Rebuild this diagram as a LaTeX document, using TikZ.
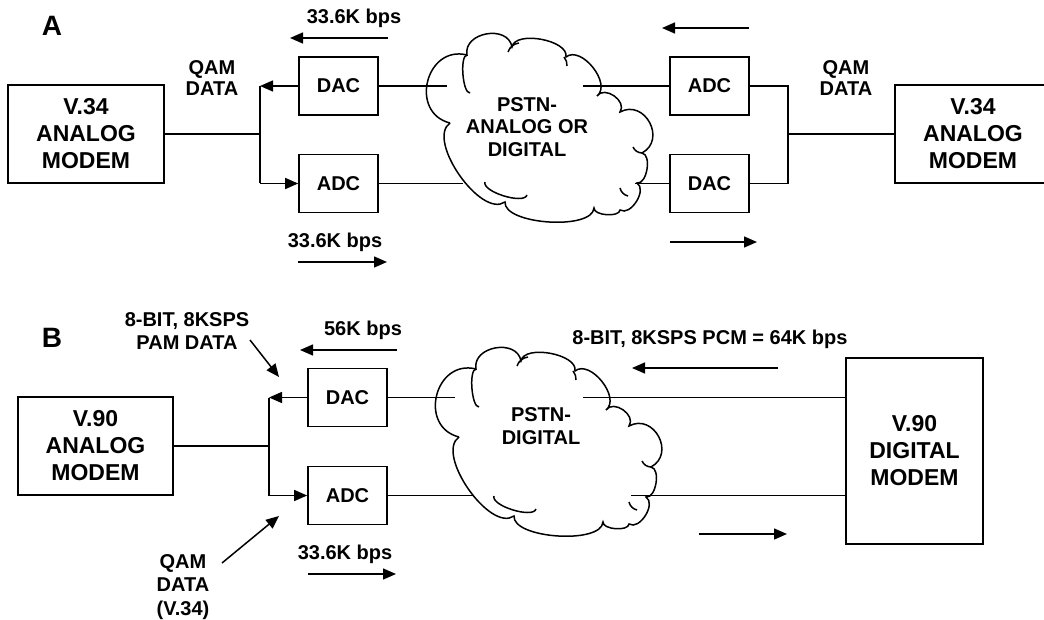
\documentclass[tikz,border=0pt]{standalone}
\usepackage{fontspec}
\setmainfont{Liberation Sans}
\usetikzlibrary{arrows.meta,calc}
\tikzset{
  bump/.style={bend left=90,looseness=#1},
  fold/.style={bend right=90,looseness=#1},
  cloudpic/.pic={
    \draw[line width=1.5pt]
      (450,123) to[bump=1.55] (467,55) to[bump=1.3] (512,47) to[bump=0.8] (566,57)
      to[bump=1.0] (597,96) to[bump=1.2] (620,112) to[bump=1.55] (642,153)
      to[bump=0.85] (637,183) to[bump=1.0] (620,210) to[bump=0.75] (594,208)
      to[bump=0.65] (505,202) to[bump=0.78] (450,123);
    \draw[line width=1.5pt] (467,55) to[fold=0.5] (470,93);
    \draw[line width=1.5pt] (508,52) to[bend left=30] (519,43);
    \draw[line width=1.5pt] (564,57) to[bend left=20] (567,66);
    \draw[line width=1.5pt] (642,153) to[bend left=30] (633,147);
    \draw[line width=1.5pt] (485,182) to[fold=0.6] (527,195);
    \draw[line width=1.5pt] (620,188) to[bend right=30] (628,196);
  }
}
\begin{document}
\begin{tikzpicture}[x=1pt,y=-1pt,
  box/.style={draw,line width=1.7pt,inner sep=0pt,minimum width=79pt,minimum height=58pt,font=\fontsize{20}{22}\selectfont\bfseries},
  modem/.style={draw,line width=1.7pt,align=center,inner sep=0pt,font=\fontsize{23}{27}\selectfont\bfseries},
  lbl/.style={align=center,inner sep=0pt,font=\fontsize{20}{21.5}\selectfont\bfseries},
  ttl/.style={inner sep=0pt,font=\fontsize{28}{30}\selectfont\bfseries},
  wire/.style={line width=1.5pt},
  arr/.style={line width=1.5pt,-{Triangle[length=13pt,width=11pt]}},
]
\useasboundingbox (0,0) rectangle (1044,620);
\clip (0,0) rectangle (1044,620);

% ---------------- A ----------------
\node[ttl,anchor=base] (tA) at (52,36) {A};
\node[modem,minimum width=156pt,minimum height=98pt] (lmA) at (86,134) {V.34\\ANALOG\\MODEM};
\node[box] (dacA1) at (338.5,86) {DAC};
\node[box] (adcA1) at (338.5,183.5) {ADC};
\node[box] (adcA2) at (709.5,86) {ADC};
\node[box] (dacA2) at (709.5,183.5) {DAC};
\node[modem,minimum width=156pt,minimum height=98pt] (rmA) at (973,134) {V.34\\ANALOG\\MODEM};
\coordinate (jA1) at (260,134);
\coordinate (jA2) at (788,134);
\node[lbl] (qamA1) at (212,78) {QAM\\DATA};
\node[lbl] (qamA2) at (846,78) {QAM\\DATA};
\pic at (0,0) {cloudpic};
\node[lbl,font=\fontsize{20}{22.5}\selectfont\bfseries] (pstnA) at (527,127) {PSTN-\\ANALOG OR\\DIGITAL};

\node[lbl,anchor=base] (rA1) at (354,24) {33.6K bps};
\coordinate (aA1s) at (388,38); \coordinate (aA1e) at (290,38);
\draw[arr] (aA1s) -- (aA1e);
\node[lbl,anchor=base] (rA2) at (335,248) {33.6K bps};
\coordinate (aA2s) at (298,262); \coordinate (aA2e) at (387,262);
\draw[arr] (aA2s) -- (aA2e);
\coordinate (aA3s) at (749,28); \coordinate (aA3e) at (662,28);
\draw[arr] (aA3s) -- (aA3e);
\coordinate (aA4s) at (670,242); \coordinate (aA4e) at (757,242);
\draw[arr] (aA4s) -- (aA4e);

\draw[arr] (dacA1.west) -- (dacA1.west -| jA1);
\draw[wire] (dacA1.west -| jA1) -- (adcA1.west -| jA1);
\draw[arr] (adcA1.west -| jA1) -- (adcA1.west);
\draw[wire] (lmA.east) -- (jA1);

\coordinate (cA1) at (447,86); \coordinate (cA2) at (583,86);
\coordinate (cA3) at (463,183.5); \coordinate (cA4) at (635,183.5);
\draw[wire] (dacA1.east) -- (cA1);
\draw[wire] (cA2) -- (adcA2.west);
\draw[wire] (adcA1.east) -- (cA3);
\draw[wire] (cA4) -- (dacA2.west);
\draw[wire] (adcA2.east) -- (adcA2.east -| jA2) -- (dacA2.east -| jA2) -- (dacA2.east);
\draw[wire] (jA2) -- (rmA.west);

% ---------------- B ----------------
\node[ttl,anchor=base] (tB) at (52,348) {B};
\node[modem,minimum width=155pt,minimum height=98pt] (lmB) at (95.5,446) {V.90\\ANALOG\\MODEM};
\node[box] (dacB) at (347.5,397.5) {DAC};
\node[box] (adcB) at (347.5,495.5) {ADC};
\coordinate (jB) at (269,446);
\node[modem,minimum width=137pt,minimum height=186pt] (rmB) at (914.5,451) {V.90\\DIGITAL\\MODEM};
\pic at (9,314) {cloudpic};
\node[lbl,font=\fontsize{20}{22.5}\selectfont\bfseries] (pstnB) at (541,426) {PSTN-\\DIGITAL};

\node[lbl,font=\fontsize{20}{23.5}\selectfont\bfseries] (pamB) at (187,331) {8-BIT, 8KSPS\\PAM DATA};
\coordinate (aB1s) at (250,340); \coordinate (aB1e) at (279,377);
\draw[arr] (aB1s) -- (aB1e);
\node[lbl,anchor=base] (r56) at (363,335) {56K bps};
\coordinate (aB2s) at (397,350); \coordinate (aB2e) at (300,350);
\draw[arr] (aB2s) -- (aB2e);
\node[lbl,font=\fontsize{20}{23.5}\selectfont\bfseries] (qamB) at (183,587) {QAM\\DATA\\(V.34)};
\coordinate (aB3s) at (222,563); \coordinate (aB3e) at (279,516);
\draw[arr] (aB3s) -- (aB3e);
\node[lbl,anchor=base] (rB2) at (345,559) {33.6K bps};
\coordinate (aB4s) at (308,574); \coordinate (aB4e) at (396,574);
\draw[arr] (aB4s) -- (aB4e);
\node[lbl,anchor=base] (pcm) at (710,344) {8-BIT, 8KSPS PCM = 64K bps};
\coordinate (aB5s) at (778,368); \coordinate (aB5e) at (632,368);
\draw[arr] (aB5s) -- (aB5e);
\coordinate (aB6s) at (699,534); \coordinate (aB6e) at (787,534);
\draw[arr] (aB6s) -- (aB6e);

\draw[arr] (dacB.west) -- (dacB.west -| jB);
\draw[wire] (dacB.west -| jB) -- (adcB.west -| jB);
\draw[arr] (adcB.west -| jB) -- (adcB.west);
\draw[wire] (lmB.east) -- (jB);

\coordinate (cB1) at (455,397.5); \coordinate (cB2) at (583,397.5);
\coordinate (cB3) at (474,495.5); \coordinate (cB4) at (631,495.5);
\draw[wire] (dacB.east) -- (cB1);
\draw[wire] (cB2) -- (rmB.west |- cB2);
\draw[wire] (adcB.east) -- (cB3);
\draw[wire] (cB4) -- (rmB.west |- cB4);
\end{tikzpicture}
\end{document}
